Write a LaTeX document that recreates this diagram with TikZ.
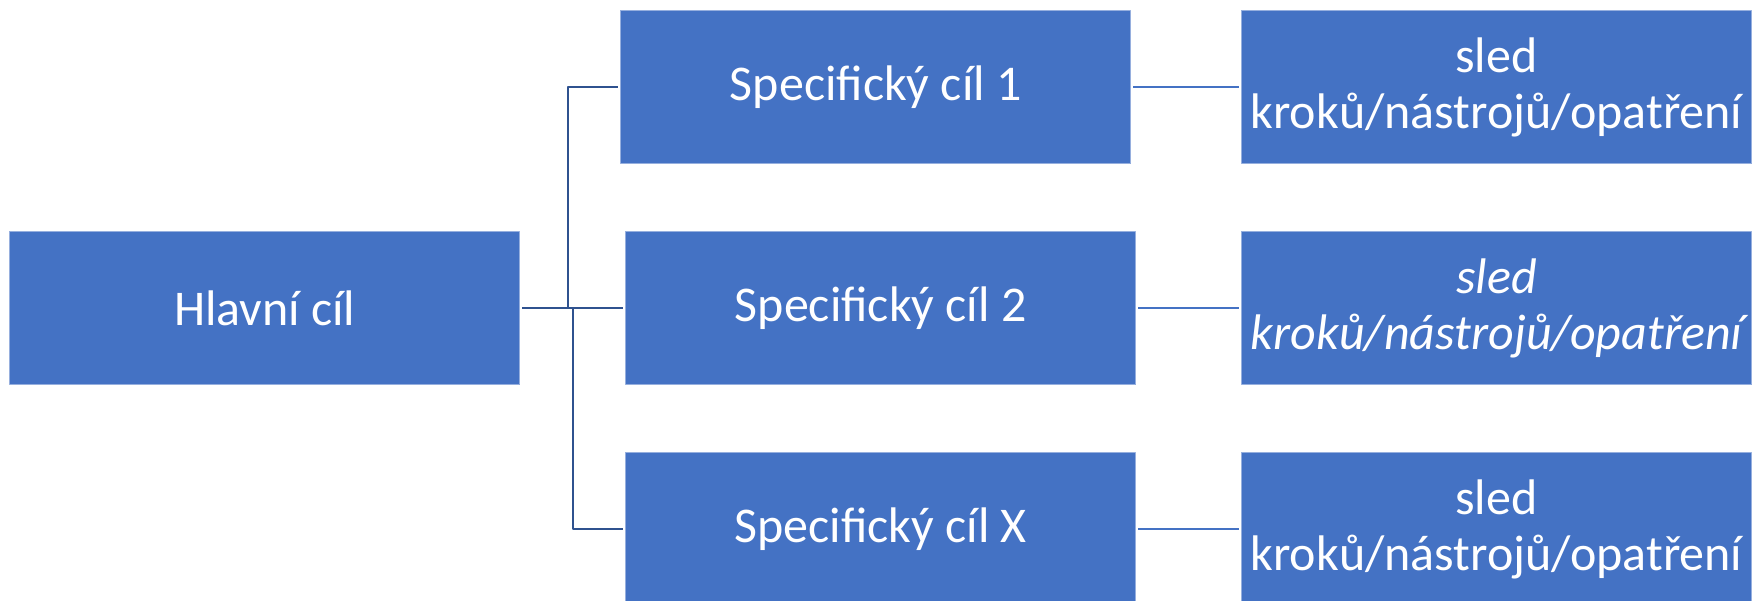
\documentclass[tikz,border=0pt]{standalone}
\usepackage{fontspec}
\setmainfont{Carlito}
\usetikzlibrary{calc}

\definecolor{boxblue}{RGB}{68,114,196}
\definecolor{boxedge}{RGB}{150,175,222}
\definecolor{linedark}{RGB}{47,82,143}

\begin{document}
\begin{tikzpicture}[x=1pt, y=-1pt, line join=round,
	goalbox/.style={draw=boxedge, line width=0.8pt, fill=boxblue, text=white, align=center, minimum width=510pt, minimum height=153pt, inner sep=0pt, outer sep=2.5pt, font=\fontsize{50}{56}\selectfont},
	forkline/.style={draw=linedark, line width=1.6pt},
	stepline/.style={draw=boxblue, line width=1.6pt}]

\useasboundingbox (0,0) rectangle (1752,601);

\node (main) at (264.8, 308.3) [goalbox] {Hlavní cíl};

\node (spec1) at (875.8, 87.3) [goalbox] {Specifický cíl 1};
\node (spec2) at (880.7, 308.3) [goalbox] {Specifický cíl 2};
\node (specx) at (880.7, 529.0) [goalbox] {Specifický cíl X};

\node (steps1) at (1496.5, 87.3) [goalbox] {sled\\kroků/nástrojů/opatření};
\node (steps2) at (1496.5, 308.3) [goalbox, font=\fontsize{50}{56}\selectfont\itshape] {sled\\kroků/nástrojů/opatření};
\node (steps3) at (1496.5, 529.0) [goalbox] {sled\\kroků/nástrojů/opatření};

\coordinate (forkup) at (568, 308.3);
\coordinate (forkdown) at (572.7, 308.3);

\draw[forkline, line width=2.4pt] (main.east) -- (spec2.west);
\draw[forkline] (forkup) |- (spec1.west);
\draw[forkline] (forkdown) |- (specx.west);

\draw[stepline] (spec1.east) -- (steps1.west);
\draw[stepline] (spec2.east) -- (steps2.west);
\draw[stepline] (specx.east) -- (steps3.west);

\end{tikzpicture}
\end{document}
